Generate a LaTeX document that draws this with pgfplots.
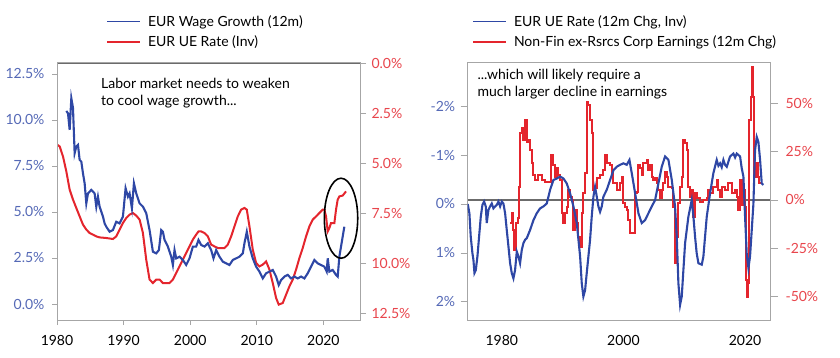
\documentclass[border=0pt]{standalone}
\usepackage{fontspec}
\setmainfont{Lato}
\usepackage{pgfplots}
\pgfplotsset{compat=1.18}
\definecolor{lblue}{HTML}{2E47A5}
\definecolor{lred}{HTML}{E4252D}
\definecolor{tblue}{HTML}{5569B6}
\definecolor{tred}{HTML}{E8454C}
\definecolor{axgray}{HTML}{A6A6A6}
\definecolor{zgray}{HTML}{6B6B6B}
\newcommand{\fs}{\fontsize{14}{16.5}\selectfont}
\pgfplotsset{
  base/.style={scale only axis, axis line style={axgray, line width=0.8pt},
    tick style={axgray, line width=0.8pt}, major tick length=7pt, tick align=outside,
    /pgf/number format/assume math mode=true,
    tick label style={font=\fs},
    x tick label style={/pgf/number format/1000 sep={}},
    yticklabel shift=2pt},
  lg/.style={legend style={draw=none, fill=none, font=\fs, row sep=4pt, column sep=5pt, inner sep=0pt, legend cell align=left}}
}
\begin{document}
\begin{tikzpicture}[x=1pt,y=1pt]
\useasboundingbox (0,0) rectangle (840,-358);
% ---------------- LEFT PANEL ----------------
\begin{axis}[base, at={(57pt,-62pt)}, anchor=north west, width=303pt, height=258pt,
  xmin=1980, xmax=2025.5, axis x line=none, axis y line*=right,
  y dir=reverse, ymin=-0.05, ymax=12.85, ytick={0,2.5,...,12.5},
  ytick pos=right, major tick length=6pt,
  yticklabel={\pgfmathprintnumber[fixed,fixed zerofill,precision=1]{\tick}\%},
  y tick label style={text=tred}]
\draw[zgray, line width=2pt] (axis cs:1980,0) -- (axis cs:2025.5,0);
\addplot[lred, line width=2pt] coordinates {
(1980,4.08)(1980.4,4.17)(1980.9,4.67)(1981.4,5.42)(1981.9,6.33)(1982.4,6.83)(1982.9,7.25)(1983.4,7.67)(1983.9,8.08)(1984.4,8.33)(1984.9,8.5)(1985.4,8.58)(1985.9,8.67)(1986.4,8.72)(1987.4,8.75)(1988.4,8.8)(1988.9,8.67)(1989.4,8.33)(1989.9,8.0)(1990.4,7.75)(1990.9,7.58)(1991.4,7.5)(1991.9,7.63)(1992.4,7.83)(1992.9,8.5)(1993.4,9.83)(1993.9,10.83)(1994.4,11.0)(1994.9,10.83)(1995.4,10.83)(1995.9,11.0)(1996.4,11.0)(1996.9,11.0)(1997.4,10.83)(1997.9,10.5)(1998.4,10.17)(1998.9,9.83)(1999.4,9.5)(1999.9,9.17)(2000.4,8.83)(2000.9,8.58)(2001.25,8.42)(2001.65,8.42)(2002.15,8.5)(2002.65,8.67)(2003.15,9.08)(2003.65,9.17)(2004.15,9.25)(2004.65,9.25)(2005.15,9.25)(2005.65,9.08)(2006.15,8.67)(2006.65,8.17)(2007.15,7.67)(2007.65,7.33)(2008.15,7.25)(2008.5,7.33)(2008.9,8.17)(2009.4,9.33)(2009.9,10.0)(2010.4,10.17)(2010.9,10.08)(2011.4,9.92)(2011.9,10.33)(2012.4,11.0)(2012.9,11.75)(2013.3,12.08)(2013.9,12.0)(2014.4,11.58)(2014.9,11.17)(2015.4,10.83)(2015.9,10.33)(2016.4,9.75)(2016.9,9.25)(2017.4,8.67)(2017.9,8.17)(2018.4,7.83)(2018.9,7.67)(2019.4,7.5)(2019.9,7.33)(2020.15,7.33)(2020.4,7.67)(2020.65,8.42)(2020.9,8.25)(2021.15,8.0)(2021.65,8.0)(2021.9,7.33)(2022.15,6.83)(2022.4,6.67)(2022.9,6.63)(2023.4,6.42)
};
\end{axis}
\begin{axis}[base, at={(57pt,-62pt)}, anchor=north west, width=303pt, height=258pt,
  xmin=1980, xmax=2025.5, ymin=-0.87, ymax=13.15,
  xtick={1980,1990,...,2020}, ytick={0,2.5,...,12.5}, ytick pos=left, xtick pos=lower,
  major tick length=5pt, xticklabel shift=7pt, yticklabel shift=4pt,
  yticklabel={\pgfmathprintnumber[fixed,fixed zerofill,precision=1]{\tick}\%},
  y tick label style={text=tblue},
  legend image code/.code={\draw[#1] (0pt,0pt) -- (33pt,0pt);},
  lg, legend style={at={(axis description cs:0.1624,1.19)}, anchor=north west}]
\addplot[lblue, line width=2.1pt, forget plot] coordinates {
(1981.4,10.49)(1981.65,10.36)(1981.9,9.46)(1982.15,11.18)(1982.4,10.66)(1982.65,8.19)(1982.9,8.55)(1983.15,8.64)(1983.4,7.83)(1983.65,7.74)(1983.9,7.10)(1984.15,6.56)(1984.4,5.47)(1984.65,6.01)(1985.15,6.20)(1985.65,6.01)(1985.9,5.29)(1986.15,5.83)(1986.4,5.29)(1986.9,4.75)(1987.15,4.38)(1987.4,4.20)(1987.9,3.93)(1988.4,4.02)(1988.9,4.47)(1989.4,4.38)(1989.9,4.75)(1990.3,6.29)(1990.65,5.83)(1990.9,6.01)(1991.25,5.20)(1991.55,6.56)(1991.9,6.01)(1992.4,5.47)(1992.9,5.29)(1993.4,4.93)(1993.9,4.02)(1994.4,2.84)(1994.9,2.75)(1995.3,2.93)(1995.65,4.02)(1995.9,3.93)(1996.15,3.48)(1996.65,3.12)(1997.15,2.57)(1997.4,2.12)(1997.65,2.93)(1997.9,2.48)(1998.4,2.57)(1998.9,2.39)(1999.4,2.12)(1999.9,2.48)(2000.4,3.12)(2000.9,3.12)(2001.25,3.48)(2001.65,3.21)(2002.15,3.12)(2002.65,3.30)(2003.15,2.93)(2003.5,2.48)(2003.9,2.93)(2004.4,2.57)(2004.9,2.30)(2005.4,2.21)(2005.9,2.12)(2006.4,2.39)(2006.9,2.48)(2007.4,2.57)(2007.9,2.75)(2008.15,3.30)(2008.5,3.93)(2008.9,3.12)(2009.4,2.48)(2009.9,2.03)(2010.4,1.76)(2010.9,1.39)(2011.4,1.67)(2011.9,1.76)(2012.4,1.85)(2012.9,1.49)(2013.3,1.03)(2013.65,1.30)(2014.15,1.49)(2014.65,1.58)(2015.15,1.39)(2015.65,1.49)(2016.15,1.39)(2016.65,1.49)(2017.15,1.39)(2017.65,1.67)(2018.15,2.03)(2018.65,2.39)(2019.15,2.21)(2019.65,2.12)(2020.15,2.03)(2020.5,1.76)(2020.65,2.48)(2020.9,1.76)(2021.4,1.85)(2021.9,1.58)(2022.15,1.49)(2022.4,2.57)(2022.65,3.12)(2022.9,3.66)(2023.15,4.2)
};
\addlegendimage{color=lblue, line width=1.6pt}
\addlegendentry{EUR Wage Growth (12m)}
\addlegendimage{color=lred, line width=1.6pt}
\addlegendentry{EUR UE Rate (Inv)}
\draw[black, line width=1.6pt] (axis cs:2022.65,4.66) ellipse [x radius=16.7pt, y radius=40pt];
\end{axis}
\node[anchor=north west, align=left, font=\fs, inner sep=0pt] at (101,-78) {Labor market needs to weaken\\to cool wage growth...};
% ---------------- RIGHT PANEL ----------------
\begin{axis}[base, at={(467.7pt,-62pt)}, anchor=north west, width=302.3pt, height=258pt,
  xmin=1974.4, xmax=2024.1, axis x line=none, axis y line*=right,
  ymin=-62.1, ymax=71.4, ytick={-50,-25,0,25,50},
  ytick pos=right, major tick length=8pt, yticklabel shift=4pt,
  yticklabel={\pgfmathprintnumber{\tick}\%},
  y tick label style={text=tred}]
\draw[zgray, line width=2pt] (axis cs:1974.4,0) -- (axis cs:2024.1,0);
\addplot[lred, line width=2pt, const plot] coordinates {
(1981.37,-12.1)(1981.64,-6.9)(1981.81,-15.5)(1982.03,-25.9)(1982.36,-12.1)(1982.63,-9.5)(1982.85,6.9)(1983.01,34.5)(1983.29,37.1)(1983.56,31.0)(1983.84,41.4)(1984.11,30.2)(1984.38,31.0)(1984.66,25.9)(1984.93,19.0)(1985.21,12.9)(1985.48,10.3)(1986.03,12.9)(1986.58,10.3)(1987.12,9.5)(1987.67,9.5)(1988.11,23.3)(1988.49,18.1)(1988.77,12.1)(1989.04,16.4)(1989.32,12.9)(1989.59,10.3)(1989.86,-6.9)(1990.14,-12.1)(1990.41,-6.9)(1990.68,-3.4)(1990.96,5.2)(1991.23,1.7)(1991.51,0)(1991.78,-15.5)(1992.05,-5.2)(1992.33,-12.1)(1992.60,-19.0)(1992.88,-24.1)(1993.15,-6.9)(1993.42,3.4)(1993.70,13.8)(1993.97,50.9)(1994.25,49.1)(1994.52,41.4)(1994.79,34.5)(1995.07,5.2)(1995.34,6.0)(1995.62,11.2)(1996.16,12.9)(1996.71,15.5)(1996.99,23.3)(1997.26,19.0)(1997.81,18.1)(1998.08,13.8)(1998.36,8.6)(1998.90,5.2)(1999.45,8.6)(1999.73,12.1)(2000.0,-1.7)(2000.27,-3.4)(2000.55,-5.2)(2000.82,-10.3)(2001.10,-17.2)(2001.64,-17.2)(2001.92,3.4)(2002.19,4.3)(2002.47,18.1)(2002.74,16.4)(2003.01,12.9)(2003.29,19.0)(2003.84,20.7)(2004.11,15.5)(2004.38,18.1)(2004.66,12.1)(2004.93,10.3)(2005.21,11.2)(2005.48,8.6)(2005.75,5.2)(2006.03,0.9)(2006.30,5.2)(2006.58,8.6)(2006.85,14.7)(2007.12,12.1)(2007.40,6.9)(2007.95,6.0)(2008.22,-3.4)(2008.49,-32.8)(2008.77,-19.0)(2009.04,-1.7)(2009.32,6.9)(2009.59,12.1)(2009.86,31.0)(2010.14,29.3)(2010.41,25.9)(2010.68,6.9)(2010.96,1.7)(2011.23,5.2)(2011.51,-8.6)(2011.78,3.4)(2012.05,0.9)(2012.60,-0.9)(2013.15,0)(2013.70,0.9)(2013.97,5.2)(2014.25,3.4)(2014.79,6.9)(2015.34,10.3)(2015.62,5.2)(2015.89,1.7)(2016.16,6.9)(2016.71,5.2)(2017.26,8.6)(2017.81,3.4)(2018.36,5.2)(2018.63,1.7)(2018.90,-5.2)(2019.18,10.3)(2019.45,-2.6)(2019.73,5.2)(2020.0,-3.4)(2020.11,-41.4)(2020.27,-50.0)(2020.55,-43.1)(2020.71,41.4)(2020.93,53.4)(2021.10,69.0)(2021.37,53.4)(2021.53,12.1)(2021.81,19.0)(2022.08,12.1)(2022.36,8.6)(2022.6,8.6)
};
\end{axis}
\begin{axis}[base, at={(467.7pt,-62pt)}, anchor=north west, width=302.3pt, height=258pt,
  xmin=1974.4, xmax=2024.1, y dir=reverse, ymin=-2.9, ymax=2.37,
  xtick={1980,2000,2020}, ytick={-2,-1,0,1,2}, ytick pos=left, xtick pos=lower,
  x tick style={draw=none}, xticklabel shift=5pt,
  yticklabel={\pgfmathprintnumber{\tick}\%},
  y tick label style={text=tblue},
  legend image code/.code={\draw[#1] (0pt,0pt) -- (33pt,0pt);},
  lg, legend style={at={(axis description cs:0.0149,1.19)}, anchor=north west}]
\addplot[lblue, line width=2.1pt, forget plot] coordinates {
(1974.41,0)(1974.68,0.19)(1974.90,0.67)(1975.18,1.01)(1975.34,1.14)(1975.51,1.41)(1975.73,1.35)(1976.0,1.07)(1976.27,0.67)(1976.55,0.26)(1976.82,0.02)(1977.10,-0.05)(1977.37,0.05)(1977.53,0.39)(1977.81,0.12)(1978.08,0.05)(1978.36,-0.01)(1978.63,0.09)(1978.90,0.05)(1979.18,0.02)(1979.45,-0.05)(1979.73,0.05)(1980,-0.05)(1980.27,-0.01)(1980.55,0.19)(1980.82,0.53)(1981.10,0.87)(1981.37,1.21)(1981.64,1.41)(1981.92,1.52)(1982.19,1.35)(1982.47,0.97)(1982.74,1.07)(1983.01,1.21)(1983.29,0.94)(1983.56,0.80)(1983.84,0.73)(1984.11,0.70)(1984.66,0.53)(1985.21,0.33)(1985.75,0.19)(1986.30,0.09)(1986.85,0.05)(1987.40,-0.01)(1987.95,-0.29)(1988.49,-0.49)(1989.04,-0.52)(1989.59,-0.56)(1990.14,-0.52)(1990.68,-0.42)(1991.23,-0.22)(1991.78,0.05)(1992.33,0.39)(1992.88,1.07)(1993.15,1.62)(1993.42,1.89)(1993.70,1.76)(1993.97,1.41)(1994.52,0.73)(1994.79,0.26)(1995.07,-0.15)(1995.34,-0.35)(1995.62,-0.15)(1995.89,0.05)(1996.16,0.16)(1996.44,0.05)(1996.71,-0.15)(1997.26,-0.29)(1997.81,-0.49)(1998.36,-0.69)(1998.90,-0.76)(1999.45,-0.80)(2000.0,-0.83)(2000.55,-0.80)(2000.99,-0.90)(2001.37,-0.63)(2001.92,-0.22)(2002.47,0.19)(2003.01,0.39)(2003.56,0.33)(2004.11,0.19)(2004.66,0.05)(2005.21,-0.08)(2005.75,-0.42)(2006.30,-0.76)(2006.85,-0.97)(2007.40,-0.90)(2007.95,-0.49)(2008.49,0.05)(2008.77,0.67)(2009.04,1.62)(2009.32,2.06)(2009.59,1.89)(2009.86,1.35)(2010.14,0.80)(2010.68,0.26)(2011.23,-0.08)(2011.51,0.26)(2011.78,0.67)(2012.05,1.01)(2012.33,1.21)(2012.88,1.24)(2013.15,1.07)(2013.42,0.67)(2013.70,0.26)(2014.25,-0.22)(2014.79,-0.63)(2015.34,-0.90)(2015.62,-0.78)(2015.89,-0.83)(2016.16,-0.75)(2016.44,-0.90)(2016.71,-0.80)(2016.99,-0.76)(2017.53,-0.97)(2018.08,-1.03)(2018.36,-0.95)(2018.63,-1.03)(2019.18,-0.97)(2019.45,-0.73)(2019.73,-0.56)(2020.0,0.26)(2020.27,1.01)(2020.55,1.31)(2020.82,1.07)(2021.10,0.53)(2021.37,0)(2021.64,-1.10)(2021.92,-1.37)(2022.19,-1.27)(2022.47,-0.90)(2022.74,-0.42)(2023.01,-0.39)
};
\addlegendimage{color=lblue, line width=1.6pt}
\addlegendentry{EUR UE Rate (12m Chg, Inv)}
\addlegendimage{color=lred, line width=1.6pt}
\addlegendentry{Non-Fin ex-Rsrcs Corp Earnings (12m Chg)}
\end{axis}
\node[anchor=north west, align=left, font=\fs, inner sep=0pt] at (477.3,-69) {...which will likely require a\\much larger decline in earnings};
\end{tikzpicture}
\end{document}
